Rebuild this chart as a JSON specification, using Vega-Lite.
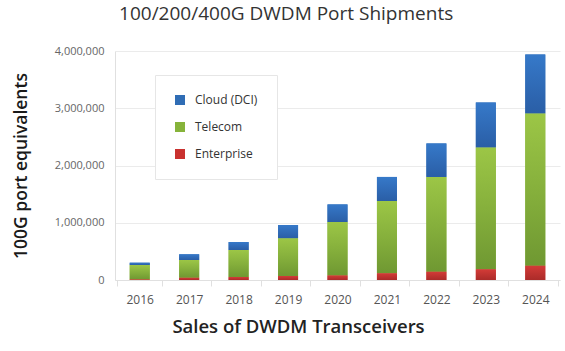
{
  "$schema": "https://vega.github.io/schema/vega-lite/v6.json",
  "width": 445,
  "height": 229,
  "padding": {"left": 12, "top": 5, "right": 3, "bottom": 5},
  "background": "white",
  "config": {"font": "Open Sans", "view": {"stroke": null}},
  "title": {"text": "100/200/400G DWDM Port Shipments", "fontSize": 19, "fontWeight": "normal", "color": "#333333", "anchor": "middle", "frame": "bounds", "offset": 21},
  "data": {"values": [
    {"year": "2016", "segment": "Enterprise", "ord": 1, "units": 10000},
    {"year": "2016", "segment": "Telecom", "ord": 2, "units": 252000},
    {"year": "2016", "segment": "Cloud (DCI)", "ord": 3, "units": 40000},
    {"year": "2017", "segment": "Enterprise", "ord": 1, "units": 40000},
    {"year": "2017", "segment": "Telecom", "ord": 2, "units": 309000},
    {"year": "2017", "segment": "Cloud (DCI)", "ord": 3, "units": 100000},
    {"year": "2018", "segment": "Enterprise", "ord": 1, "units": 52000},
    {"year": "2018", "segment": "Telecom", "ord": 2, "units": 472000},
    {"year": "2018", "segment": "Cloud (DCI)", "ord": 3, "units": 139000},
    {"year": "2019", "segment": "Enterprise", "ord": 1, "units": 70000},
    {"year": "2019", "segment": "Telecom", "ord": 2, "units": 658000},
    {"year": "2019", "segment": "Cloud (DCI)", "ord": 3, "units": 232000},
    {"year": "2020", "segment": "Enterprise", "ord": 1, "units": 80000},
    {"year": "2020", "segment": "Telecom", "ord": 2, "units": 932000},
    {"year": "2020", "segment": "Cloud (DCI)", "ord": 3, "units": 308000},
    {"year": "2021", "segment": "Enterprise", "ord": 1, "units": 117000},
    {"year": "2021", "segment": "Telecom", "ord": 2, "units": 1261000},
    {"year": "2021", "segment": "Cloud (DCI)", "ord": 3, "units": 422000},
    {"year": "2022", "segment": "Enterprise", "ord": 1, "units": 145000},
    {"year": "2022", "segment": "Telecom", "ord": 2, "units": 1655000},
    {"year": "2022", "segment": "Cloud (DCI)", "ord": 3, "units": 585000},
    {"year": "2023", "segment": "Enterprise", "ord": 1, "units": 187000},
    {"year": "2023", "segment": "Telecom", "ord": 2, "units": 2128000},
    {"year": "2023", "segment": "Cloud (DCI)", "ord": 3, "units": 785000},
    {"year": "2024", "segment": "Enterprise", "ord": 1, "units": 250000},
    {"year": "2024", "segment": "Telecom", "ord": 2, "units": 2660000},
    {"year": "2024", "segment": "Cloud (DCI)", "ord": 3, "units": 1030000}
  ]},
  "transform": [
    {"stack": "units", "groupby": ["year"], "sort": [{"field": "ord", "order": "ascending"}], "as": ["y0", "y1"]}
  ],
  "encoding": {
    "x": {
      "field": "year", "type": "ordinal",
      "title": "Sales of DWDM Transceivers",
      "axis": {
        "labelAngle": 0, "labelFontSize": 12, "labelColor": "#555555", "labelPadding": 8,
        "domainColor": "#e0e0e0", "tickColor": "#e0e0e0", "tickBand": "extent", "tickSize": 6,
        "titleFontSize": 18.5, "titleFontWeight": 600, "titleColor": "#222222", "titlePadding": 12,
        "titleX": 183
      }
    },
    "y": {
      "field": "y0", "type": "quantitative",
      "title": "100G port equivalents",
      "scale": {"domain": [0, 4000000]},
      "axis": {
        "values": [0, 1000000, 2000000, 3000000, 4000000], "format": ",d",
        "labelFontSize": 11, "labelColor": "#666666", "labelPadding": 11,
        "ticks": false, "domainColor": "#e0e0e0", "gridColor": "#ebebeb",
        "titleFontSize": 17.5, "titleFontWeight": 600, "titleColor": "#1a1a1a", "titlePadding": 24
      }
    },
    "y2": {"field": "y1"}
  },
  "layer": [
    {
      "mark": {"type": "bar", "size": 20},
      "encoding": {
        "color": {
          "field": "segment", "type": "nominal",
          "scale": {"domain": ["Cloud (DCI)", "Telecom", "Enterprise"], "range": ["#2f6db5", "#86b33a", "#c9312f"]},
          "legend": {
            "title": null, "orient": "none", "legendX": 40, "legendY": 24,
            "symbolType": "square", "symbolSize": 100, "symbolStrokeWidth": 0,
            "labelFontSize": 12, "labelColor": "#333333", "labelOffset": 9,
            "rowPadding": 15, "padding": 19,
            "fillColor": "white", "strokeColor": "#e6e6e6"
          }
        }
      }
    },
    {
      "transform": [{"filter": "datum.segment === 'Cloud (DCI)'"}],
      "mark": {"type": "bar", "size": 20, "color": {"gradient": "linear", "x1": 0, "y1": 0, "x2": 0, "y2": 1, "stops": [{"offset": 0, "color": "#3679c9"}, {"offset": 1, "color": "#2a5ea6"}]}}
    },
    {
      "transform": [{"filter": "datum.segment === 'Telecom'"}],
      "mark": {"type": "bar", "size": 20, "color": {"gradient": "linear", "x1": 0, "y1": 0, "x2": 0, "y2": 1, "stops": [{"offset": 0, "color": "#9cc646"}, {"offset": 0.5, "color": "#86b03c"}, {"offset": 1, "color": "#6f9832"}]}}
    },
    {
      "transform": [{"filter": "datum.segment === 'Enterprise'"}],
      "mark": {"type": "bar", "size": 20, "color": {"gradient": "linear", "x1": 0, "y1": 0, "x2": 0, "y2": 1, "stops": [{"offset": 0, "color": "#d33b37"}, {"offset": 1, "color": "#ab2b29"}]}}
    }
  ]
}
